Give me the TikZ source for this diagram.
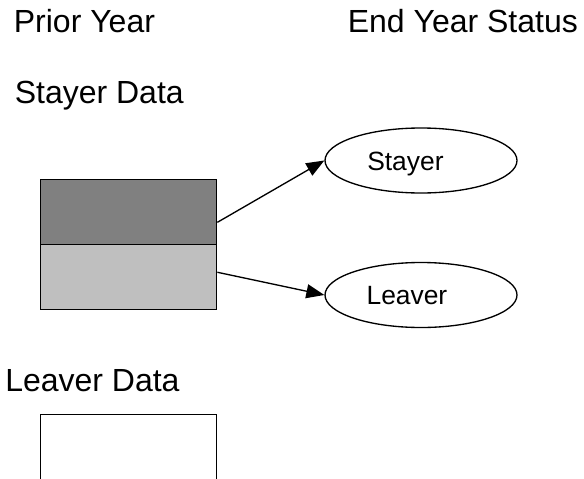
\documentclass[tikz,border=0pt]{standalone}
\usepackage{fontspec}
\setmainfont{Liberation Sans}
\usetikzlibrary{shapes.geometric,arrows.meta}
\tikzset{
 heading/.style={anchor=base west,inner sep=0pt,font=\fontsize{24}{28}\selectfont},
 databox/.style={draw,line width=1pt,minimum width=132pt,minimum height=48.75pt,inner sep=0pt},
 statusoval/.style={draw,ellipse,line width=1pt,minimum width=144pt,minimum height=48.75pt,inner sep=0pt},
 statustext/.style={anchor=base west,inner sep=0pt,font=\fontsize{19.8}{23}\selectfont},
 flow/.style={line width=1pt,-{Triangle[length=13.5pt,width=10.5pt]}}
}
\begin{document}
\begin{tikzpicture}[x=0.75pt,y=-0.75pt]
 \useasboundingbox (0,0) rectangle (584,478);
 % headings
 \node[heading] (prior) at (13.6,32.3) {Prior Year};
 \node[heading] (endyear) at (347.5,32.3) {End Year Status};
 \node[heading] (stayerdata) at (14.5,103) {Stayer Data};
 \node[heading] (leaverdata) at (5,391.7) {Leaver Data};
 % prior year boxes
 \node[databox,fill=black!50] (stayertop) at (128.7,211.8) {};
 \node[databox,fill=black!25] (stayerlow) at (128.7,276.8) {};
 \node[databox] (leaverbox) at (128.7,447) {};
 % end year status
 \node[statusoval] (stayer) at (421,160.5) {};
 \node[statusoval] (leaver) at (421,295) {};
 \node[statustext] (stayerlbl) at (367,170.7) {Stayer};
 \node[statustext] (leaverlbl) at (366.3,304.3) {Leaver};
 % arrows
 \draw[flow] ([yshift=-7.9pt]stayertop.east) -- (stayer.west);
 \draw[flow] ([yshift=3.4pt]stayerlow.east) -- (leaver.west);
\end{tikzpicture}
\end{document}
